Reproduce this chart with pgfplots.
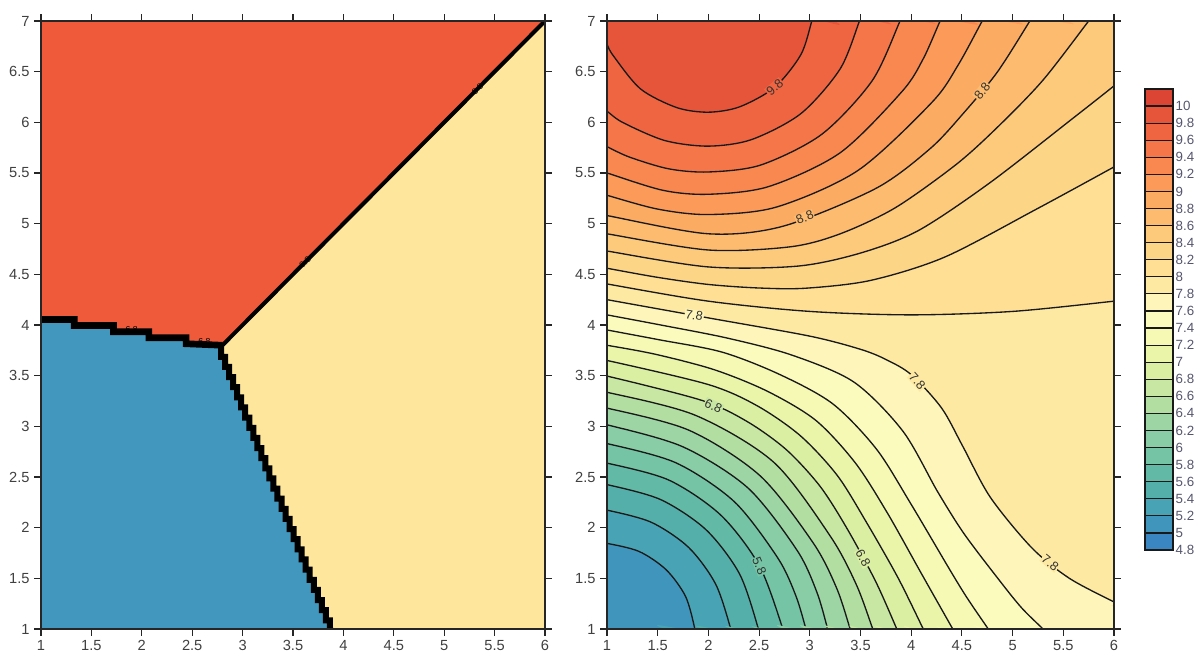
\documentclass[border=0pt]{standalone}
\usepackage{fontspec}
\setmainfont{Liberation Sans}
\usepackage{pgfplots}
\pgfplotsset{compat=1.18}

% band colours, named by the lower bound of the band (4.8 ... 10)
\definecolor{c48}{HTML}{3A86C3}
\definecolor{c50}{HTML}{4095BD}
\definecolor{c52}{HTML}{48A3B4}
\definecolor{c54}{HTML}{54AFAB}
\definecolor{c56}{HTML}{62BAA6}
\definecolor{c58}{HTML}{74C4A5}
\definecolor{c60}{HTML}{88CDA5}
\definecolor{c62}{HTML}{9DD6A4}
\definecolor{c64}{HTML}{B2DEA2}
\definecolor{c66}{HTML}{C7E7A2}
\definecolor{c68}{HTML}{DBEFA3}
\definecolor{c70}{HTML}{EAF5AA}
\definecolor{c72}{HTML}{F5F9B4}
\definecolor{c74}{HTML}{FCFBBE}
\definecolor{c76}{HTML}{FEF5BA}
\definecolor{c78}{HTML}{FEE9A3}
\definecolor{c80}{HTML}{FEDF93}
\definecolor{c82}{HTML}{FDD586}
\definecolor{c84}{HTML}{FDC97A}
\definecolor{c86}{HTML}{FDBB6F}
\definecolor{c88}{HTML}{FCAB63}
\definecolor{c90}{HTML}{FB9A59}
\definecolor{c92}{HTML}{F98850}
\definecolor{c94}{HTML}{F57648}
\definecolor{c96}{HTML}{EF6541}
\definecolor{c98}{HTML}{E6543A}
\definecolor{c100}{HTML}{DC4433}
\definecolor{nnred}{HTML}{EF5A3B}
\definecolor{nnblue}{HTML}{4197BE}
\definecolor{nnyellow}{HTML}{FEE79C}
\definecolor{cblab}{HTML}{55556E}

\pgfplotsset{
  panel/.style={
    scale only axis, height=456pt, anchor=south west,
    xmin=1, xmax=6, ymin=1, ymax=7,
    xtick={1,1.5,...,6}, ytick={1,1.5,...,7},
    tick align=outside, major tick length=5pt,
    axis line style={black!85, line width=0.9pt},
    tick style={black!85, line width=0.8pt},
    tick label style={font=\fontsize{11}{13}\selectfont, text=black!75},
    /pgf/number format/assume math mode=true,
    axis on top,
  },
}
\tikzset{
  lab/.style={font=\fontsize{9.5}{10}\selectfont, text=black!80, inner sep=0.6pt},
  tinylab/.style={font=\fontsize{6.5}{7}\selectfont, text=black, inner sep=0.5pt},
}

% one contour level: fill the side above the level, then draw the line
\newcommand{\iso}[3]{%
  \addplot[fill=#1, draw=none, smooth] coordinates {#2 #3};
  \addplot[black!90, line width=1pt, smooth] coordinates {#2};
}
\newcommand{\cbox}[3]{\addplot[fill=#1, draw=none] coordinates {(0,#2) (1,#2) (1,#3) (0,#3)};}

\begin{document}
\begin{tikzpicture}
\useasboundingbox (0,0) rectangle (901.5pt,489.75pt);

% ---------- left: nearest sample regions ----------
\begin{axis}[panel, at={(30.75pt,18pt)}, width=378pt]
  \addplot[fill=nnred, draw=none] coordinates {(1,7) (6,7) (2.786,3.786) (1,4.083)};
  \addplot[fill=nnblue, draw=none] coordinates {(1,1) (3.9,1) (2.786,3.786) (1,4.083)};
  \addplot[fill=nnyellow, draw=none] coordinates {(3.9,1) (6,1) (6,7) (2.786,3.786)};
  \addplot[black, line width=3pt] coordinates {(2.786,3.786) (6.05,7.05)};
  \addplot[black, line width=5pt] coordinates {(0.95,4.055) (1.33,4.055) (1.33,3.995) (1.72,3.995)
    (1.72,3.934) (2.07,3.934) (2.07,3.874) (2.44,3.874) (2.44,3.815) (2.80,3.80)};
  \addplot[black, line width=4.5pt] coordinates {(2.786,3.786) (2.786,3.686) (2.826,3.686)
    (2.826,3.586) (2.866,3.586) (2.866,3.486) (2.906,3.486) (2.906,3.386) (2.946,3.386)
    (2.946,3.286) (2.986,3.286) (2.986,3.186) (3.026,3.186) (3.026,3.086) (3.066,3.086)
    (3.066,2.986) (3.106,2.986) (3.106,2.886) (3.146,2.886) (3.146,2.786) (3.186,2.786)
    (3.186,2.686) (3.226,2.686) (3.226,2.586) (3.266,2.586) (3.266,2.486) (3.306,2.486)
    (3.306,2.386) (3.346,2.386) (3.346,2.286) (3.386,2.286) (3.386,2.186) (3.426,2.186)
    (3.426,2.086) (3.466,2.086) (3.466,1.986) (3.506,1.986) (3.506,1.886) (3.546,1.886)
    (3.546,1.786) (3.586,1.786) (3.586,1.686) (3.626,1.686) (3.626,1.586) (3.666,1.586)
    (3.666,1.486) (3.706,1.486) (3.706,1.386) (3.746,1.386) (3.746,1.286) (3.786,1.286)
    (3.786,1.186) (3.826,1.186) (3.826,1.086) (3.866,1.086) (3.866,1.0) (3.89,0.98)};
  \node[tinylab, rotate=45] at (axis cs:5.33,6.33) {8.8};
  \node[tinylab, rotate=45] at (axis cs:3.62,4.62) {8.8};
  \node[tinylab] at (axis cs:1.90,3.96) {6.8};
  \node[tinylab] at (axis cs:2.62,3.84) {6.8};
\end{axis}

% ---------- right: interpolated surface ----------
\begin{axis}[panel, at={(455.25pt,18pt)}, width=380.25pt]
  \addplot[fill=c50, draw=none] coordinates {(0,0) (7,0) (7,8) (0,8)};
  \iso{c52}{(0.9,1.845) (1,1.845) (1.317,1.765) (1.584,1.584) (1.775,1.321) (1.866,1) (1.866,0.9)}{(8,-1) (8,9) (-1,9)}
  \iso{c54}{(0.9,2.173) (1,2.173) (1.437,2.053) (1.805,1.805) (2.071,1.444) (2.22,1) (2.225,0.9)}{(8,-1) (8,9) (-1,9)}
  \iso{c56}{(0.9,2.425) (1,2.425) (1.529,2.277) (1.978,1.978) (2.308,1.542) (2.493,1) (2.50,0.9)}{(8,-1) (8,9) (-1,9)}
  \iso{c58}{(0.9,2.637) (1,2.637) (1.609,2.47) (2.123,2.123) (2.503,1.623) (2.734,1) (2.745,0.9)}{(8,-1) (8,9) (-1,9)}
  \iso{c60}{(0.9,2.83) (1,2.83) (1.68,2.64) (2.256,2.256) (2.686,1.698) (2.862,1.329) (2.962,1) (2.99,0.9)}{(8,-1) (8,9) (-1,9)}
  \iso{c62}{(0.9,3.015) (1,3.015) (1.746,2.799) (2.391,2.391) (2.874,1.777) (3.069,1.365) (3.176,1) (3.20,0.9)}{(8,-1) (8,9) (-1,9)}
  \iso{c64}{(0.9,3.18) (1,3.18) (1.812,2.96) (2.511,2.511) (3.037,1.844) (3.266,1.40) (3.398,1) (3.43,0.9)}{(8,-1) (8,9) (-1,9)}
  \iso{c66}{(0.9,3.336) (1,3.336) (1.874,3.108) (2.645,2.645) (3.204,1.913) (3.46,1.435) (3.621,1) (3.66,0.9)}{(8,-1) (8,9) (-1,9)}
  \iso{c68}{(0.9,3.50) (1,3.496) (1.935,3.256) (2.381,3.048) (2.769,2.769) (3.102,2.407) (3.372,1.983) (3.65,1.468) (3.858,1) (3.90,0.9)}{(8,-1) (8,9) (-1,9)}
  \iso{c70}{(0.9,3.655) (1,3.65) (2.0,3.412) (2.484,3.201) (2.907,2.907) (3.269,2.518) (3.555,2.059) (3.869,1.507) (4.119,1) (4.17,0.9)}{(8,-1) (8,9) (-1,9)}
  \iso{c72}{(0.9,3.815) (1,3.80) (1.478,3.711) (2.06,3.558) (2.582,3.346) (3.059,3.059) (3.449,2.639) (3.765,2.145) (4.10,1.548) (4.41,1) (4.47,0.9)}{(8,-1) (8,9) (-1,9)}
  \iso{c74}{(0.9,3.97) (1,3.951) (1.505,3.856) (2.133,3.733) (2.696,3.515) (3.224,3.224) (3.656,2.777) (3.993,2.241) (4.374,1.596) (4.549,1.31) (4.76,1) (4.83,0.9)}{(8,-1) (8,9) (-1,9)}
  \iso{c76}{(0.9,4.12) (1,4.10) (1.53,4.00) (2.19,3.87) (2.823,3.703) (3.436,3.436) (3.918,2.952) (4.262,2.352) (4.519,1.943) (4.847,1.509) (5.084,1.214) (5.30,1) (5.40,0.9)}{(8,-1) (8,9) (-1,9)}
  \iso{c78}{(0.9,4.27) (1,4.25) (2,4.07) (3,3.89) (3.5,3.76) (3.75,3.66) (4,3.51) (4.3,3.18) (4.51,2.8) (4.78,2.3) (5.19,1.8) (5.56,1.5) (6,1.267) (6.1,1.22)}{(8,1.2) (8,9) (-1,9)}
  \iso{c80}{(0.9,4.426) (1,4.405) (2,4.235) (3,4.134) (4,4.10) (5,4.134) (6,4.235) (6.1,4.249)}{(8,4.3) (8,9) (-1,9)}
  \iso{c82}{(0.9,4.58) (1,4.56) (1.5,4.47) (2,4.40) (2.5,4.365) (2.96,4.363) (3.6,4.44) (4.33,4.67) (5.225,5.138) (6,5.56) (6.1,5.62)}{(8,5.8) (8,9) (-1,9)}
  \iso{c84}{(0.9,4.75) (1,4.73) (2,4.573) (2.88,4.581) (3.5,4.71) (4.069,4.931) (4.771,5.40) (5.591,6.037) (6,6.36) (6.1,6.45)}{(8,6.8) (8,9) (-1,9)}
  \iso{c86}{(0.9,4.92) (1,4.90) (2,4.74) (2.811,4.772) (3.3,4.90) (3.843,5.157) (4.447,5.587) (4.859,5.96) (5.30,6.417) (5.75,7) (5.83,7.1)}{(-1,9)}
  \iso{c88}{(0.9,5.10) (1,5.08) (2,4.90) (2.737,4.975) (3.652,5.348) (4.185,5.739) (4.512,6.086) (4.85,6.497) (5.17,7) (5.23,7.1)}{(-1,9)}
  \iso{c90}{(0.9,5.31) (1,5.28) (1.503,5.143) (2,5.09) (2.668,5.163) (3.475,5.525) (4.205,6.198) (4.4625,6.565) (4.70,7) (4.76,7.1)}{(-1,9)}
  \iso{c92}{(0.9,5.53) (1,5.50) (1.552,5.329) (2,5.29) (2.594,5.366) (3.30,5.70) (3.91,6.305) (4.118,6.626) (4.285,7) (4.34,7.1)}{(-1,9)}
  \iso{c94}{(0.9,5.81) (1,5.76) (1.224,5.656) (1.609,5.541) (2,5.51) (2.517,5.579) (3.118,5.882) (3.616,6.412) (3.89,7) (3.94,7.1)}{(-1,9)}
  \iso{c96}{(0.9,6.18) (1,6.11) (1.158,5.997) (1.571,5.82) (2,5.765) (2.426,5.83) (2.913,6.087) (3.299,6.527) (3.49,7) (3.53,7.1)}{(-1,9)}
  \iso{c98}{(0.95,6.86) (1,6.77) (1.06,6.66) (1.33,6.33) (1.689,6.145) (2,6.10) (2.308,6.153) (2.654,6.346) (2.912,6.668) (3.02,7) (3.05,7.1)}{(-1,9)}
  \node[lab, fill=c96, rotate=40] at (axis cs:2.654,6.346) {9.8};
  \node[lab, fill=c86, rotate=22] at (axis cs:2.95,5.06) {8.8};
  \node[lab, fill=c86, rotate=51] at (axis cs:4.70,6.31) {8.8};
  \node[lab, fill=c76, rotate=-10] at (axis cs:1.86,4.095) {7.8};
  \node[lab, fill=c78, rotate=-48] at (axis cs:4.06,3.445) {7.8};
  \node[lab, fill=c78, rotate=-39] at (axis cs:5.37,1.654) {7.8};
  \node[lab, fill=c66, rotate=-25] at (axis cs:2.05,3.202) {6.8};
  \node[lab, fill=c68, rotate=-62] at (axis cs:3.525,1.70) {6.8};
  \node[lab, fill=c58, rotate=-67] at (axis cs:2.503,1.623) {5.8};
\end{axis}

% ---------- colour scale ----------
\begin{axis}[at={(858.75pt,77.25pt)}, anchor=south west, scale only axis,
    width=21pt, height=345.75pt, xmin=0, xmax=1, ymin=4.8, ymax=10.2,
    xtick=\empty,
    ytick={4.8,5,5.2,5.4,5.6,5.8,6,6.2,6.4,6.6,6.8,7,7.2,7.4,7.6,7.8,8,8.2,8.4,8.6,8.8,9,9.2,9.4,9.6,9.8,10},
    yticklabels={4.8,5,5.2,5.4,5.6,5.8,6,6.2,6.4,6.6,6.8,7,7.2,7.4,7.6,7.8,8,8.2,8.4,8.6,8.8,9,9.2,9.4,9.6,9.8,10},
    yticklabel pos=right, major tick length=0pt,
    ymajorgrids, grid style={black!90, line width=0.9pt},
    axis line style={black!90, line width=0.9pt}, axis on top,
    yticklabel style={font=\fontsize{10}{11}\selectfont, text=cblab, xshift=-1.5pt}]
  \cbox{c48}{4.8}{5.0} \cbox{c50}{5.0}{5.2} \cbox{c52}{5.2}{5.4} \cbox{c54}{5.4}{5.6}
  \cbox{c56}{5.6}{5.8} \cbox{c58}{5.8}{6.0} \cbox{c60}{6.0}{6.2} \cbox{c62}{6.2}{6.4}
  \cbox{c64}{6.4}{6.6} \cbox{c66}{6.6}{6.8} \cbox{c68}{6.8}{7.0} \cbox{c70}{7.0}{7.2}
  \cbox{c72}{7.2}{7.4} \cbox{c74}{7.4}{7.6} \cbox{c76}{7.6}{7.8} \cbox{c78}{7.8}{8.0}
  \cbox{c80}{8.0}{8.2} \cbox{c82}{8.2}{8.4} \cbox{c84}{8.4}{8.6} \cbox{c86}{8.6}{8.8}
  \cbox{c88}{8.8}{9.0} \cbox{c90}{9.0}{9.2} \cbox{c92}{9.2}{9.4} \cbox{c94}{9.4}{9.6}
  \cbox{c96}{9.6}{9.8} \cbox{c98}{9.8}{10.0} \cbox{c100}{10.0}{10.2}
\end{axis}
\end{tikzpicture}
\end{document}
